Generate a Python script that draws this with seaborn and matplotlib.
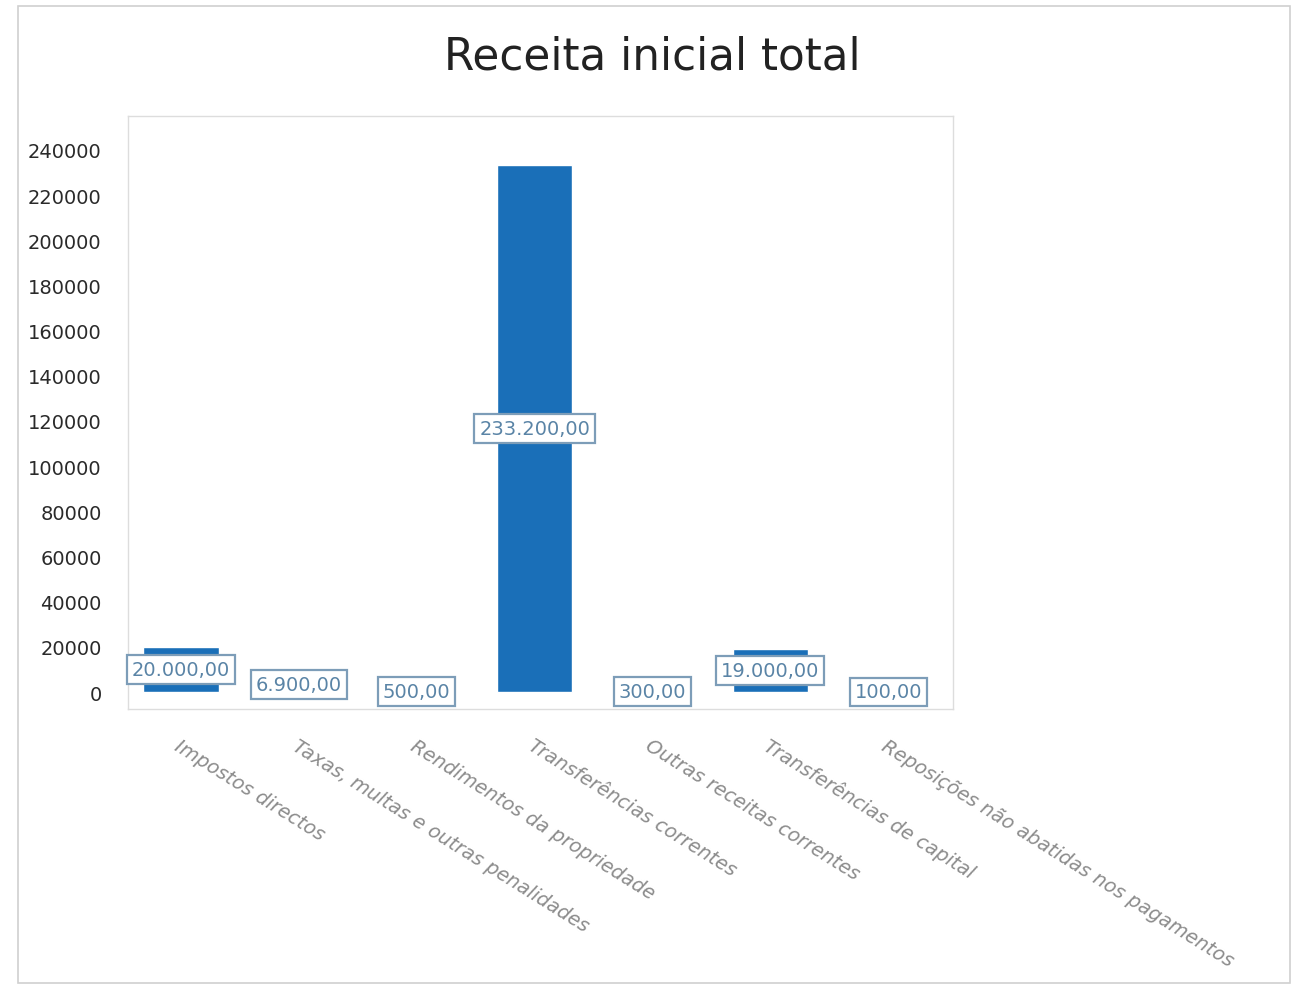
import matplotlib
matplotlib.use("Agg")
import matplotlib.pyplot as plt
import seaborn as sns
from matplotlib.patches import Rectangle
from matplotlib.ticker import MultipleLocator

# Data
categorias = [
    "Impostos directos",
    "Taxas, multas e outras penalidades",
    "Rendimentos da propriedade",
    "Transferências correntes",
    "Outras receitas correntes",
    "Transferências de capital",
    "Reposições não abatidas nos pagamentos",
]
valores = [20000, 6900, 500, 233200, 300, 19000, 100]
yticks = list(range(0, 240001, 20000))


def fmt_pt(v):
    s = f"{v:,.2f}"
    return s.replace(",", "X").replace(".", ",").replace("X", ".")


sns.set_style("white")
plt.rcParams["font.family"] = ["DejaVu Sans"]

fig = plt.figure(figsize=(12.96, 9.87), dpi=100)
ax = fig.add_axes([0.0988, 0.2806, 0.6365, 0.6009])

sns.barplot(x=categorias, y=valores, color="#1a6fb8", saturation=1,
            width=0.64, ax=ax)

ax.set_xlim(-0.45, 6.55)
ax.set_ylim(-7500, 255000)
ax.set_yticks(yticks)
ax.set_yticklabels([str(t) for t in yticks], fontsize=14, color="#2a2a2a")
ax.yaxis.set_minor_locator(MultipleLocator(5000))
ax.tick_params(axis="y", which="both", length=0, pad=19)

ax.set_xticks(range(len(categorias)))
ax.set_xticklabels(categorias, rotation=-32, ha="left", va="top",
                   rotation_mode="anchor", fontsize=14, color="#8c8c8c",
                   style="italic")
ax.tick_params(axis="x", length=5, color="#bbbbbb", pad=14)

for s in ax.spines.values():
    s.set_color("#dddddd")
    s.set_linewidth(1)

ax.set_xlabel("")
ax.set_ylabel("")

# value labels centred on the bars
for i, v in enumerate(valores):
    ax.text(i, v / 2, fmt_pt(v), ha="center", va="center", fontsize=14,
            color="#5a84a6",
            bbox=dict(boxstyle="square,pad=0.25", fc="white",
                      ec="#7d9db8", lw=1.6))

fig.text(0.503, 0.942, "Receita inicial total", ha="center", va="center",
         fontsize=31.5, color="#222222")

# outer frame
fig.patches.append(Rectangle((0.014, 0.003), 0.981, 0.99,
                             transform=fig.transFigure, fill=False,
                             ec="#d0d0d0", lw=1.2))

fig.savefig("out.png", dpi=100)
